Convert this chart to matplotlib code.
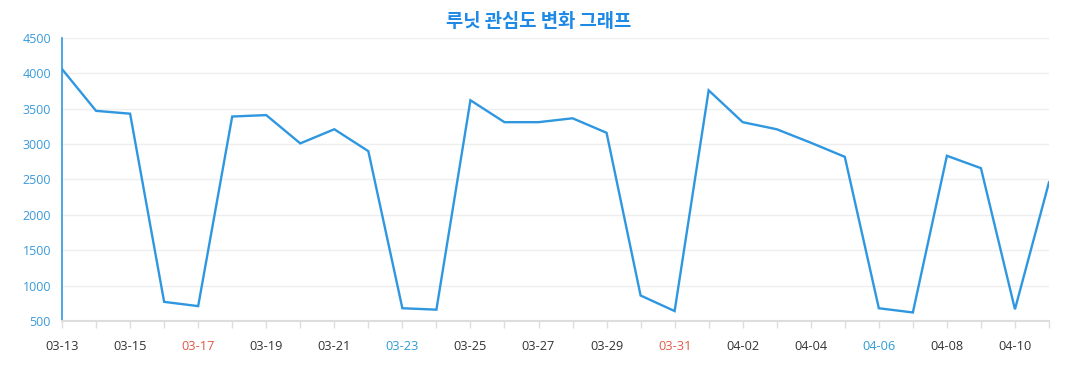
import numpy as np
import matplotlib
matplotlib.use("Agg")
import matplotlib.pyplot as plt

plt.rcParams['font.family'] = ['Open Sans', 'Noto Sans CJK KR', 'DejaVu Sans']

TITLE = '루닛 관심도 변화 그래프'

dates = ['03-13', '03-14', '03-15', '03-16', '03-17', '03-18', '03-19', '03-20',
         '03-21', '03-22', '03-23', '03-24', '03-25', '03-26', '03-27', '03-28',
         '03-29', '03-30', '03-31', '04-01', '04-02', '04-03', '04-04', '04-05',
         '04-06', '04-07', '04-08', '04-09', '04-10', '04-11']
values = [4060, 3470, 3430, 770, 710, 3390, 3410, 3010,
          3210, 2900, 680, 660, 3620, 3310, 3310, 3365,
          3160, 860, 640, 3760, 3310, 3210, 3020, 2820,
          680, 620, 2835, 2660, 665, 2460]

# special label colours (holidays / weekends)
red_days = ['03-17', '03-31']
blue_days = ['03-23', '04-06']

fig = plt.figure(figsize=(10.77, 3.9), dpi=100)
ax = fig.add_axes([0.0576, 0.177, 0.9164, 0.7256])

x = np.arange(len(dates))
ax.plot(x, values, '-', color='#2f97e0', lw=1.7, solid_joinstyle='miter')

ax.set_xlim(0, len(dates) - 1)
ax.set_ylim(500, 4500)
ax.set_yticks(np.arange(500, 4501, 500))
ax.tick_params(axis='y', length=0, pad=8, labelsize=9, labelcolor='#3a9ad9')
ax.grid(axis='y', color='#eeeeee', lw=1)
ax.set_axisbelow(True)

ax.set_xticks(x, minor=True)
ax.set_xticks(x[::2])
ax.set_xticklabels(dates[::2])
ax.tick_params(axis='x', which='both', length=5, color='#dddddd', width=1)
ax.tick_params(axis='x', which='major', pad=9, labelsize=9.2, labelcolor='#333333')
for lab in ax.get_xticklabels():
    if lab.get_text() in red_days:
        lab.set_color('#e05a45')
    elif lab.get_text() in blue_days:
        lab.set_color('#2e9bd6')

for s in ['top', 'right']:
    ax.spines[s].set_visible(False)
ax.spines['left'].set_color('#2f97e0')
ax.spines['left'].set_linewidth(1.2)
ax.spines['bottom'].set_color('#dddddd')
ax.spines['bottom'].set_linewidth(1.5)

fig.text(0.5, 0.945, TITLE, ha='center', va='center', fontsize=13.5, fontweight='bold',
         color='#1e8ae6', family=['Noto Sans CJK KR', 'DejaVu Sans'])

fig.savefig('out.png', dpi=100)
